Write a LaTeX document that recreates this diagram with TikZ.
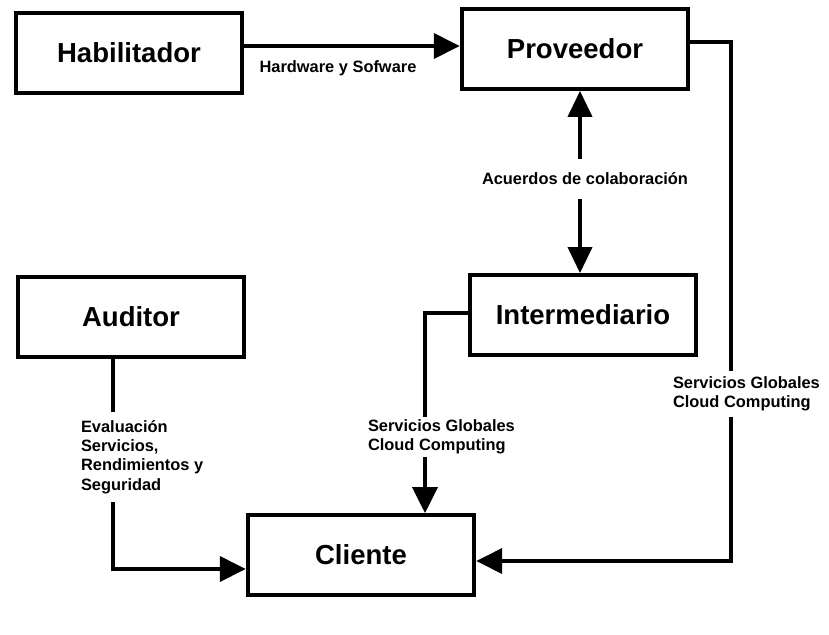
\documentclass[tikz,border=0pt]{standalone}
\usepackage{fontspec}
\setmainfont{Liberation Sans}
\usetikzlibrary{arrows.meta,positioning}

\begin{document}
\begin{tikzpicture}[x=0.03cm,y=-0.03cm,
    box/.style={draw=black,line width=3.2pt,fill=white,
                font=\fontsize{23.5}{28}\selectfont\bfseries,
                minimum width=6.8cm,minimum height=2.4cm,align=center},
    arr/.style={-{Triangle[length=0.78cm,width=0.75cm]},line width=3.2pt},
    darr/.style={{Triangle[length=0.78cm,width=0.72cm]}-{Triangle[length=0.78cm,width=0.72cm]},line width=3.2pt},
    lbl/.style={font=\fontsize{14}{16.5}\selectfont\bfseries,fill=white,
                align=left,inner xsep=1pt,inner ysep=5pt}
  ]
  \useasboundingbox (0,0) rectangle (829,634);
  \node[box] (hab) at (129,53) {Habilitador};
  \node[box] (prov) at (575,49) {Proveedor};
  \node[box] (aud) at (131,317) {Auditor};
  \node[box] (inter) at (583,315) {Intermediario};
  \node[box] (cli) at (361,555) {Cliente};
  \coordinate (ic) at (425,437);
  \coordinate (pc) at (731,394);
  \coordinate (ac) at (113,457);
  \draw[arr] (hab.east |- 0,46) -- (prov.west |- 0,46)
    node[lbl,midway,below=0.2cm,xshift=-0.42cm,fill=none]{Hardware y Sofware};
  \draw[darr] (prov.south -| 580,0) -- (inter.north -| 580,0)
    node[lbl,midway,xshift=0.15cm,yshift=0.09cm,inner ysep=12pt]{Acuerdos de colaboración};
  \draw[arr] (inter.west |- 0,313) -| (ic)
    node[lbl,anchor=west,xshift=-1.8cm,inner ysep=2pt]{Servicios Globales\\Cloud Computing}
    -- (ic |- cli.north);
  \draw[arr] (prov.east |- 0,42) -| (pc)
    node[lbl,anchor=west,xshift=-1.83cm]{Servicios Globales\\Cloud Computing}
    |- (cli.east |- 0,561);
  \draw[arr] (aud.south -| ac) -- (ac)
    node[lbl,anchor=west,xshift=-1.05cm,inner ysep=7pt]{Evaluación\\Servicios,\\Rendimientos y\\Seguridad}
    |- (cli.west |- 0,569);
\end{tikzpicture}
\end{document}
